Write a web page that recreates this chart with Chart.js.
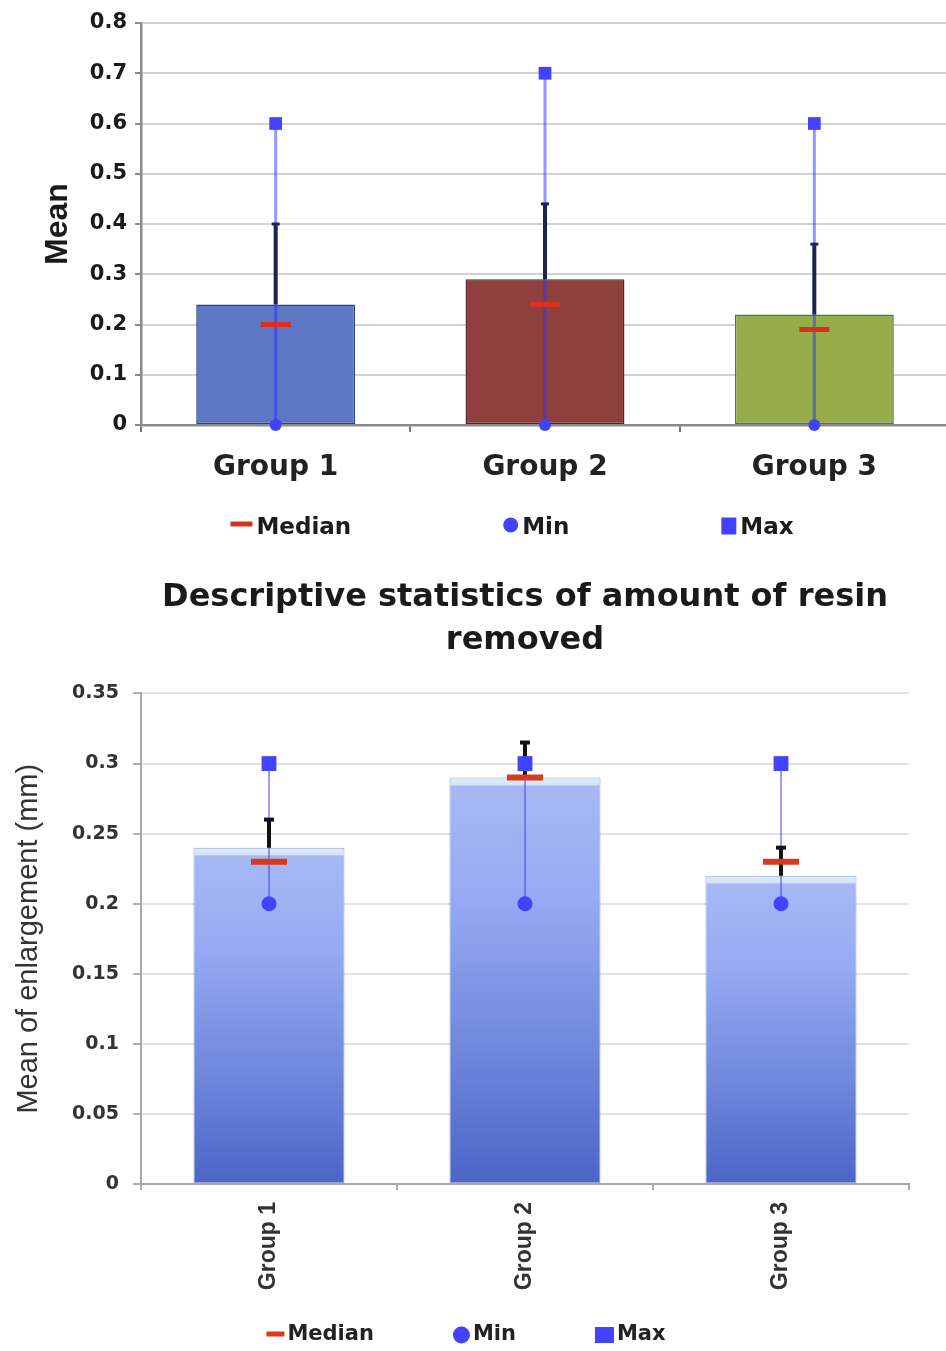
<!DOCTYPE html>
<html>
<head>
<meta charset="utf-8">
<script src="https://cdn.jsdelivr.net/npm/chart.js@4.4.1/dist/chart.umd.min.js"></script>
<style>
  html, body { margin: 0; padding: 0; background: #fff; width: 946px; height: 1351px; overflow: hidden; }
  canvas { position: absolute; left: 0; display: block; }
  #meanChart { top: 0; }
  #enlChart { top: 560px; }
</style>
</head>
<body>
<canvas id="meanChart" width="969" height="560"></canvas>
<canvas id="enlChart" width="946" height="791"></canvas>
<script>
// ---- data ----
const groups = ['Group 1', 'Group 2', 'Group 3'];

// upper chart: mean with SD, median, min, max
const meanUpper   = [0.24, 0.29, 0.22];
const sdUpper     = [0.16, 0.15, 0.14];
const medianUpper = [0.20, 0.24, 0.19];
const minUpper    = [0, 0, 0];
const maxUpper    = [0.6, 0.7, 0.6];

// lower chart: mean of enlargement (mm)
const meanLower   = [0.24, 0.29, 0.22];
const sdLower     = [0.02, 0.025, 0.02];
const medianLower = [0.23, 0.29, 0.23];
const minLower    = [0.2, 0.2, 0.2];
const maxLower    = [0.3, 0.3, 0.3];

const lowerTitle = ['Descriptive statistics of amount of resin', 'removed'];

// ---- helpers ----
const tickText = v => String(+Number(v).toFixed(2));

// one row of legend entries (ordered by legendEntry), laid out with wide even gaps
const rowLegend = {
  id: 'rowLegend',
  afterDraw(chart, args, opts) {
    const ctx = chart.ctx;
    const items = chart.data.datasets.filter(d => d.legendEntry).sort((a, b) => a.legendEntry - b.legendEntry);
    ctx.save();
    ctx.font = opts.font;
    ctx.textBaseline = 'middle';
    const marks = items.map(d => opts.marker[d.pointStyle]);
    const widths = items.map((d, i) => marks[i].w + opts.textGap + ctx.measureText(d.label).width);
    const total = widths.reduce((a, b) => a + b, 0) + opts.gap * (items.length - 1);
    let x = opts.centerX - total / 2;
    const y = opts.y;
    items.forEach((d, i) => {
      const m = marks[i];
      ctx.fillStyle = d.pointBorderColor;
      const my = y + m.dy;
      if (d.pointStyle === 'circle') {
        ctx.beginPath();
        ctx.arc(x + m.w / 2, my, m.w / 2, 0, Math.PI * 2);
        ctx.fill();
      } else {
        ctx.fillRect(x, my - m.h / 2, m.w, m.h);
      }
      ctx.fillStyle = opts.color;
      ctx.fillText(d.label, x + m.w + opts.textGap, y);
      x += widths[i] + opts.gap;
    });
    ctx.restore();
  }
};

function statDatasets(s) {
  return [
    { type: 'line', label: 'Max', legendEntry: 3, data: s.max, showLine: false,
      pointStyle: 'rect', pointRadius: s.maxR, pointHoverRadius: s.maxR, pointBorderWidth: 0,
      pointBackgroundColor: s.mark, pointBorderColor: s.mark, order: 0, clip: false },
    { type: 'line', label: 'Min', legendEntry: 2, data: s.min, showLine: false,
      pointStyle: 'circle', pointRadius: s.minR, pointHoverRadius: s.minR, pointBorderWidth: 0,
      pointBackgroundColor: s.mark, pointBorderColor: s.mark, order: 0, clip: false },
    { type: 'line', label: 'Median', legendEntry: 1, data: s.median, showLine: false,
      pointStyle: 'line', pointRadius: s.medR, pointHoverRadius: s.medR, pointBorderWidth: s.medW,
      pointBorderColor: s.red, pointBackgroundColor: s.red, order: 1, clip: false },
    { type: 'line', label: 'SD cap', data: s.mean.map((m, i) => m + s.sd[i]), showLine: false,
      pointStyle: 'line', pointRadius: s.capR, pointHoverRadius: s.capR, pointBorderWidth: s.capW,
      pointBorderColor: s.err, order: 2, clip: false },
    { type: 'bar', label: 'SD', data: s.mean.map((m, i) => [m, m + s.sd[i]]), grouped: false,
      maxBarThickness: s.errW, backgroundColor: s.err, borderWidth: 0, order: 3 },
    { type: 'bar', label: 'Range', data: s.min.map((m, i) => [m, s.max[i]]), grouped: false,
      maxBarThickness: s.rangeW, backgroundColor: s.range, borderWidth: 0, order: 4 },
    { type: 'bar', label: 'Mean', data: s.mean, grouped: false, categoryPercentage: 1, barPercentage: 0.59,
      backgroundColor: s.fill, borderColor: s.edge, borderWidth: s.edgeW, borderSkipped: false, order: 5 }
  ];
}

// vertical fill of the lower bars: pale rim on top, blue deepening downward
function lowerBarFill(c) {
  const chart = c.chart;
  if (!chart.chartArea || c.type !== 'data') return '#7f95e4';
  const y = chart.scales.y;
  const top = y.getPixelForValue(c.raw);
  const bottom = y.getPixelForValue(0);
  const g = chart.ctx.createLinearGradient(0, top, 0, bottom);
  const rim = Math.min(0.06, 7 / (bottom - top));
  g.addColorStop(0, '#dcecf6');
  g.addColorStop(rim, '#d3e5f6');
  g.addColorStop(rim + 0.004, '#a6b9f5');
  g.addColorStop(0.3, '#95aaf2');
  g.addColorStop(0.65, '#7189de');
  g.addColorStop(1, '#4c65c6');
  return g;
}

Chart.defaults.font.family = "'DejaVu Sans', sans-serif";
Chart.defaults.animation = false;

// ---- upper chart ----
new Chart(document.getElementById('meanChart'), {
  data: {
    labels: groups,
    datasets: statDatasets({
      mean: meanUpper, sd: sdUpper, median: medianUpper, min: minUpper, max: maxUpper,
      maxR: 9, minR: 6, medR: 15, medW: 5, capR: 4, capW: 3, errW: 4, rangeW: 3,
      mark: '#4343ff', red: '#da311d', err: '#1e2452', range: 'rgba(45,45,255,0.5)',
      fill: ['#5e77c4', '#8f3f3d', '#95ae4b'], edge: ['#2e4380', '#5a2422', '#5d7330'], edgeW: 1.5
    })
  },
  options: {
    responsive: false,
    layout: { padding: { left: 42, right: 11, top: 23, bottom: 65 } },
    plugins: {
      legend: { display: false },
      tooltip: { enabled: false },
      rowLegend: {
        y: 528, centerX: 512, gap: 152, textGap: 4, color: '#1c1c1c',
        font: "bold 23px 'DejaVu Sans'",
        marker: { line: { w: 22, h: 5, dy: -4 }, circle: { w: 15, h: 15, dy: -3 }, rect: { w: 15, h: 17, dy: -2 } }
      }
    },
    scales: {
      x: {
        afterFit: s => { s.height = 70; },
        grid: { drawOnChartArea: false, tickLength: 7, tickColor: '#777', lineWidth: 2 },
        border: { color: '#8a8a8a', width: 2.5 },
        ticks: { font: { size: 28, weight: 'bold' }, color: '#222', padding: 19, maxRotation: 0 }
      },
      y: {
        min: 0, max: 0.8,
        afterFit: s => { s.width = 99; },
        ticks: { stepSize: 0.1, callback: tickText, font: { size: 21, weight: 'bold' }, color: '#1a1a1a', padding: 8 },
        grid: { color: '#d2d2d2', lineWidth: 2, tickLength: 6, tickColor: '#8a8a8a' },
        border: { color: '#8a8a8a', width: 2.5 },
        title: { display: true, text: 'Mean', color: '#1a1a1a', padding: 0,
                 font: { family: "'Liberation Sans', Arial, sans-serif", size: 32, weight: 'bold', lineHeight: 1 } }
      }
    }
  },
  plugins: [rowLegend]
});

// ---- lower chart ----
new Chart(document.getElementById('enlChart'), {
  data: {
    labels: groups,
    datasets: statDatasets({
      mean: meanLower, sd: sdLower, median: medianLower, min: minLower, max: maxLower,
      maxR: 10.5, minR: 7.5, medR: 18, medW: 6, capR: 5, capW: 4, errW: 4, rangeW: 2,
      mark: '#4343ff', red: '#d83a1c', err: '#111111', range: 'rgba(60,60,255,0.5)',
      fill: lowerBarFill, edge: 'rgba(70,90,190,0.55)', edgeW: 1
    })
  },
  options: {
    responsive: false,
    layout: { padding: { left: 14, right: 37, top: 0, bottom: 55 } },
    plugins: {
      legend: { display: false },
      tooltip: { enabled: false },
      title: {
        display: true, text: lowerTitle, fullSize: false, color: '#1a1a1a',
        font: { size: 32, weight: 'bold', lineHeight: 1.32 },
        padding: { top: 17, bottom: 32 }
      },
      rowLegend: {
        y: 775, centerX: 466, gap: 79, textGap: 3, color: '#222',
        font: "bold 21px 'DejaVu Sans'",
        marker: { line: { w: 18, h: 5, dy: -1 }, circle: { w: 17, h: 17, dy: 0 }, rect: { w: 19, h: 16, dy: 0 } }
      }
    },
    scales: {
      x: {
        afterFit: s => { s.height = 112; },
        grid: {
          drawOnChartArea: true, tickLength: 6, tickColor: '#aaa', lineWidth: 2,
          color: c => (c.index === groups.length ? '#dadada' : 'rgba(0,0,0,0)')
        },
        border: { color: '#a8a8a8', width: 2 },
        ticks: { font: { family: "'Liberation Sans', Arial, sans-serif", size: 23, weight: 'bold' },
                 color: '#333', padding: 12, minRotation: 90, maxRotation: 90 }
      },
      y: {
        min: 0, max: 0.35,
        afterFit: s => { s.width = 127; },
        ticks: { stepSize: 0.05, callback: tickText, font: { size: 19, weight: 'bold' }, color: '#333', padding: 14 },
        grid: { color: '#e2e2e2', lineWidth: 2, tickLength: 8, tickColor: '#b0b0b0' },
        border: { color: '#a8a8a8', width: 2 },
        title: { display: true, text: 'Mean of enlargement (mm)', color: '#333', padding: 0,
                 font: { family: "'Liberation Sans', Arial, sans-serif", size: 29, weight: 'normal', lineHeight: 1 } }
      }
    }
  },
  plugins: [rowLegend]
});
</script>
</body>
</html>
